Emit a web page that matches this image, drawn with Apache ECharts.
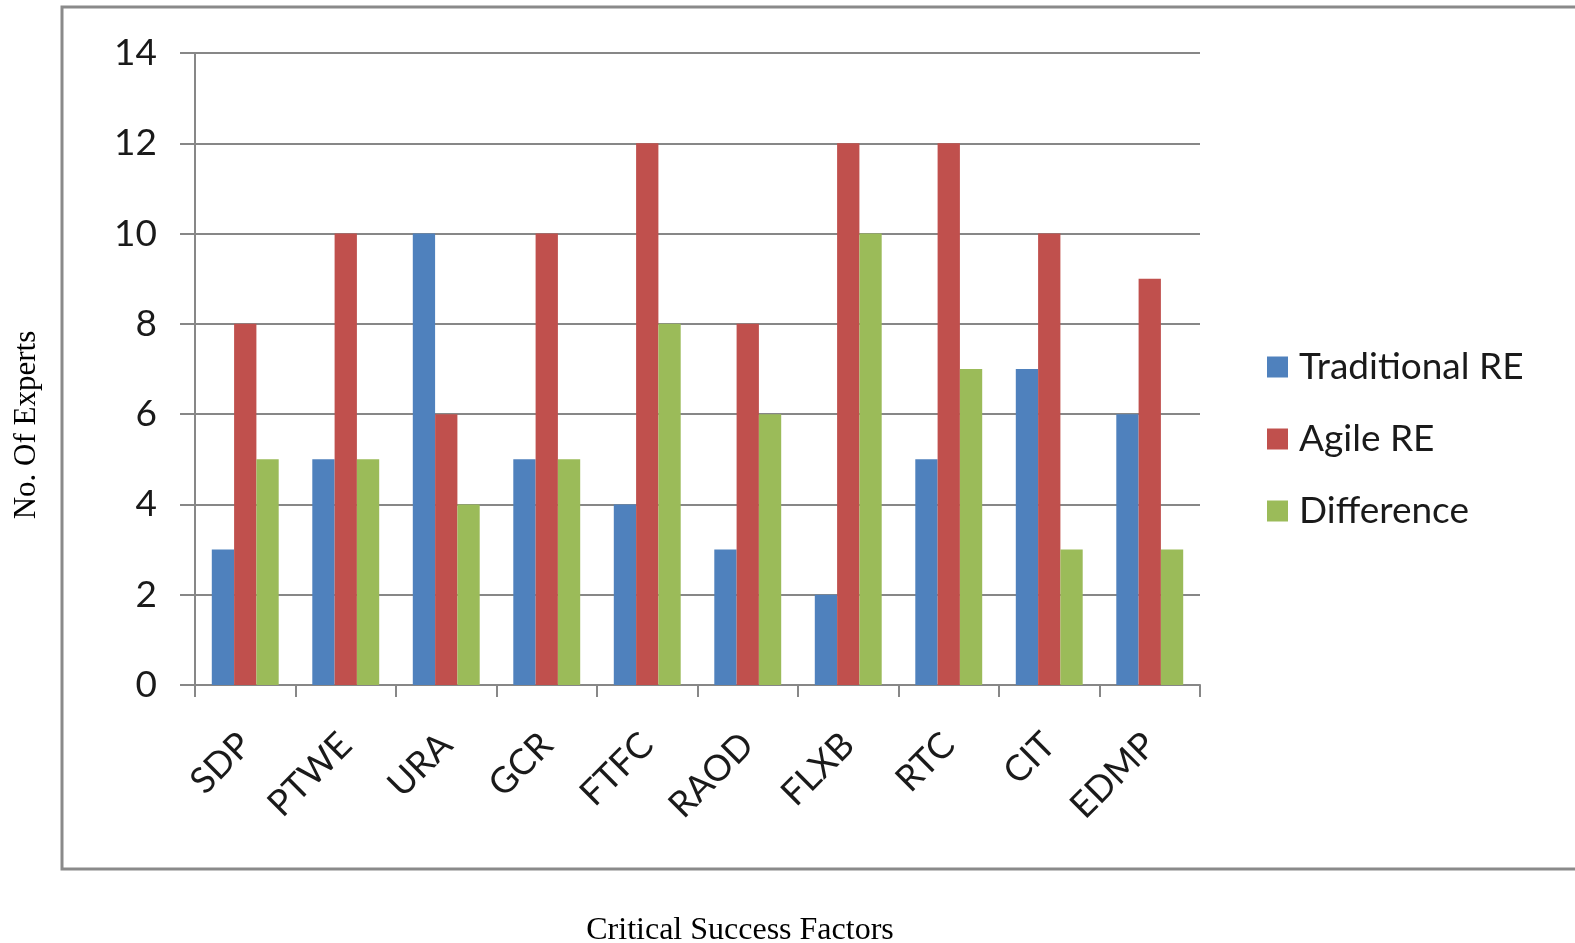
<!DOCTYPE html>
<html>
<head>
<meta charset="utf-8">
<title>Critical Success Factors</title>
<script src="https://cdn.jsdelivr.net/npm/echarts@6/dist/echarts.min.js"></script>
<style>
  html, body { margin: 0; padding: 0; background: #ffffff; }
  #chart { width: 1575px; height: 943px; }
</style>
</head>
<body>
<div id="chart"></div>
<script>
// Critical success factors rated by experts
const categories = ['SDP', 'PTWE', 'URA', 'GCR', 'FTFC', 'RAOD', 'FLXB', 'RTC', 'CIT', 'EDMP'];
const traditionalRE = [3, 5, 10, 5, 4, 3, 2, 5, 7, 6];
const agileRE = [8, 10, 6, 10, 12, 8, 12, 12, 10, 9];
const difference = [5, 5, 4, 5, 8, 6, 10, 7, 3, 3];
const yTicks = { min: 0, max: 14, interval: 2 };

const labelFont = 'Lato, "Open Sans", sans-serif';
const titleFont = '"Liberation Serif", "DejaVu Serif", serif';
const grey = '#878787';

const chart = echarts.init(document.getElementById('chart'), null, { renderer: 'canvas' });

function bar(name, data, color) {
  return {
    name: name,
    type: 'bar',
    data: data,
    barWidth: 22.3,
    barGap: '0%',
    itemStyle: { color: color },
    emphasis: { disabled: true }
  };
}

chart.setOption({
  animation: false,
  backgroundColor: '#ffffff',
  grid: { left: 195, right: 375, top: 53, bottom: 258, containLabel: false },
  legend: {
    orient: 'vertical',
    left: 1262,
    top: 342,
    itemWidth: 21,
    itemHeight: 21,
    itemGap: 32,
    icon: 'rect',
    selectedMode: false,
    textStyle: {
      fontFamily: labelFont,
      fontSize: 37,
      color: '#1a1a1a',
      lineHeight: 40,
      padding: [0, 0, 0, 6]
    },
    data: ['Traditional RE', 'Agile RE', 'Difference']
  },
  xAxis: {
    type: 'category',
    data: categories,
    boundaryGap: true,
    axisLine: { show: true, lineStyle: { color: grey, width: 2 } },
    axisTick: { show: true, alignWithLabel: false, length: 12, lineStyle: { color: grey, width: 2 } },
    axisLabel: {
      rotate: 45,
      interval: 0,
      margin: 54,
      fontFamily: labelFont,
      fontSize: 36,
      color: '#1a1a1a'
    },
    splitLine: { show: false }
  },
  yAxis: {
    type: 'value',
    min: yTicks.min,
    max: yTicks.max,
    interval: yTicks.interval,
    axisLine: { show: true, lineStyle: { color: grey, width: 2 } },
    axisTick: { show: true, length: 15, lineStyle: { color: grey, width: 2 } },
    axisLabel: {
      margin: 38,
      fontFamily: labelFont,
      fontSize: 37,
      color: '#1a1a1a'
    },
    splitLine: { show: true, lineStyle: { color: grey, width: 2 } }
  },
  series: [
    bar('Traditional RE', traditionalRE, '#4F81BD'),
    bar('Agile RE', agileRE, '#C0504D'),
    bar('Difference', difference, '#9BBB59')
  ],
  graphic: [
    {
      type: 'rect',
      silent: true,
      shape: { x: 62, y: 7, width: 1600, height: 862 },
      style: { fill: 'none', stroke: '#8a8a8a', lineWidth: 3 }
    },
    {
      type: 'text',
      silent: true,
      x: 27,
      y: 425,
      rotation: Math.PI / 2,
      style: {
        text: 'No. Of Experts',
        fontFamily: titleFont,
        fontSize: 31,
        fill: '#000000',
        textAlign: 'center',
        textVerticalAlign: 'middle'
      }
    },
    {
      type: 'text',
      silent: true,
      x: 740,
      y: 931,
      style: {
        text: 'Critical Success Factors',
        fontFamily: titleFont,
        fontSize: 32,
        fill: '#000000',
        textAlign: 'center',
        textVerticalAlign: 'middle'
      }
    }
  ]
});
</script>
</body>
</html>
